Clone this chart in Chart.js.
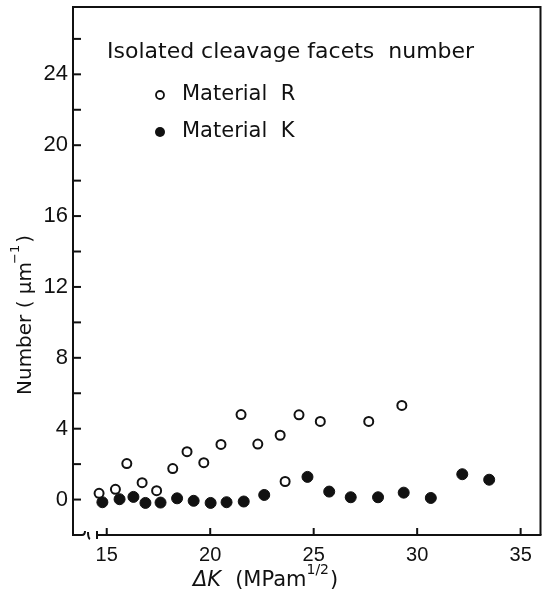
<!DOCTYPE html>
<html>
<head>
<meta charset="utf-8">
<script src="https://cdn.jsdelivr.net/npm/chart.js@4.4.0/dist/chart.umd.min.js"></script>
<style>
  html, body { margin: 0; padding: 0; background: #fff; }
  #wrap { width: 547px; height: 598px; }
</style>
</head>
<body>
<div id="wrap"><canvas id="chart" width="547" height="598"></canvas></div>
<script>
// Material R: isolated cleavage facets (open circles)
const rDeltaK = [14.63, 15.42, 15.97, 16.71, 17.41, 18.19, 18.88, 19.69, 20.52, 21.49, 22.30, 23.38, 23.62, 24.29, 25.32, 27.66, 29.26];
const rNumber = [0.35, 0.58, 2.03, 0.95, 0.50, 1.75, 2.70, 2.08, 3.11, 4.80, 3.13, 3.63, 1.02, 4.78, 4.41, 4.41, 5.31];

// Material K (filled circles)
const kDeltaK = [14.79, 15.62, 16.29, 16.87, 17.60, 18.40, 19.20, 20.02, 20.79, 21.62, 22.61, 24.70, 25.75, 26.79, 28.11, 29.35, 30.66, 32.18, 33.48];
const kNumber = [-0.15, 0.02, 0.15, -0.19, -0.17, 0.07, -0.07, -0.19, -0.15, -0.11, 0.26, 1.28, 0.45, 0.13, 0.13, 0.39, 0.09, 1.43, 1.12];

// axis ticks
const xTickValues = [15, 20, 25, 30, 35];
const yTickValues = [0, 4, 8, 12, 16, 20, 24];
const yMinorTicks = [0, 2, 4, 6, 8, 10, 12, 14, 16, 18, 20, 22, 24, 26];

const INK = '#111';
const TEXT_FONT = '"DejaVu Sans", sans-serif';

const toPoints = (xs, ys) => xs.map((x, i) => ({ x: x, y: ys[i] }));

// frame, inward ticks, broken x axis, legend block and axis titles
const decorations = {
    id: 'decorations',
    beforeDatasetsDraw(chart) {
        const { ctx, chartArea: a, scales } = chart;
        ctx.save();
        ctx.strokeStyle = INK;
        ctx.lineWidth = 2;
        ctx.lineCap = 'butt';

        // left, top, right sides
        ctx.beginPath();
        ctx.moveTo(a.left, a.bottom);
        ctx.lineTo(a.left, a.top);
        ctx.lineTo(a.right, a.top);
        ctx.lineTo(a.right, a.bottom);
        ctx.stroke();

        // bottom axis with a break near the origin
        ctx.beginPath();
        ctx.moveTo(a.left - 1, a.bottom);
        ctx.lineTo(a.left + 9, a.bottom);
        ctx.quadraticCurveTo(a.left + 12, a.bottom, a.left + 12, a.bottom - 4);
        ctx.stroke();
        ctx.beginPath();
        ctx.moveTo(a.left + 15, a.bottom - 3);
        ctx.quadraticCurveTo(a.left + 15, a.bottom + 3, a.left + 17, a.bottom + 4);
        ctx.stroke();
        ctx.beginPath();
        ctx.moveTo(a.left + 24, a.bottom - 4);
        ctx.lineTo(a.left + 24, a.bottom + 4);
        ctx.moveTo(a.left + 24, a.bottom);
        ctx.lineTo(a.right + 1, a.bottom);
        ctx.stroke();

        // y ticks pointing into the plot
        yMinorTicks.forEach(v => {
            const y = scales.y.getPixelForValue(v);
            ctx.beginPath();
            ctx.moveTo(a.left, y);
            ctx.lineTo(a.left + 8, y);
            ctx.stroke();
        });
        // x ticks pointing up
        xTickValues.forEach(v => {
            const x = scales.x.getPixelForValue(v);
            ctx.beginPath();
            ctx.moveTo(x, a.bottom);
            ctx.lineTo(x, a.bottom - 7);
            ctx.stroke();
        });
        ctx.restore();
    },
    afterDraw(chart) {
        const { ctx } = chart;
        ctx.save();
        ctx.fillStyle = INK;
        ctx.strokeStyle = INK;
        ctx.textBaseline = 'middle';
        ctx.textAlign = 'left';

        // legend block
        ctx.font = '22px ' + TEXT_FONT;
        ctx.fillText('Isolated cleavage facets  number', 107, 52);
        ctx.font = '21px ' + TEXT_FONT;
        ctx.fillText('Material  R', 182, 95);
        ctx.fillText('Material  K', 182, 132);
        ctx.lineWidth = 1.8;
        ctx.beginPath();
        ctx.arc(160, 95, 4, 0, Math.PI * 2);
        ctx.stroke();
        ctx.beginPath();
        ctx.arc(160, 132, 5, 0, Math.PI * 2);
        ctx.fill();

        // x title: ΔK (MPam^1/2)
        let x = 193;
        const yT = 581;
        ctx.font = 'italic 21px ' + TEXT_FONT;
        ctx.fillText('ΔK', x, yT);
        x += ctx.measureText('ΔK').width + 14;
        ctx.font = '21px ' + TEXT_FONT;
        ctx.fillText('(MPam', x, yT);
        x += ctx.measureText('(MPam').width;
        ctx.font = '14px ' + TEXT_FONT;
        ctx.fillText('1/2', x, yT - 11);
        x += ctx.measureText('1/2').width + 1;
        ctx.font = '21px ' + TEXT_FONT;
        ctx.fillText(')', x, yT);

        // y title: Number ( μm^-1 )
        ctx.translate(26, 395);
        ctx.rotate(-Math.PI / 2);
        let t = 0;
        ctx.font = '20px ' + TEXT_FONT;
        ctx.fillText('Number ( μm', t, 0);
        t += ctx.measureText('Number ( μm').width;
        ctx.font = '13px ' + TEXT_FONT;
        ctx.fillText('−1', t - 2, -10);
        t += ctx.measureText('−1').width;
        ctx.font = '20px ' + TEXT_FONT;
        ctx.fillText(')', t, 0);
        ctx.restore();
    }
};

let chart;
try {
    const canvas = document.getElementById('chart');
    chart = new Chart(canvas.getContext('2d'), {
        type: 'scatter',
        data: {
            datasets: [
                {
                    label: 'Material R',
                    data: toPoints(rDeltaK, rNumber),
                    pointStyle: 'circle',
                    pointRadius: 4.5,
                    pointBorderWidth: 2,
                    borderColor: INK,
                    backgroundColor: '#fff',
                    clip: false
                },
                {
                    label: 'Material K',
                    data: toPoints(kDeltaK, kNumber),
                    pointStyle: 'circle',
                    pointRadius: 5.5,
                    pointBorderWidth: 1,
                    borderColor: INK,
                    backgroundColor: INK,
                    clip: false
                }
            ]
        },
        options: {
            responsive: false,
            animation: false,
            layout: { padding: { top: 7, right: 2, left: 0, bottom: 0 } },
            plugins: {
                legend: { display: false },
                tooltip: { enabled: false }
            },
            scales: {
                x: {
                    type: 'linear',
                    min: 13.37,
                    max: 35.96,
                    grid: { display: false, drawTicks: false },
                    border: { display: false },
                    afterBuildTicks: s => { s.ticks = xTickValues.map(v => ({ value: v })); },
                    afterFit: s => { s.height = 63; s.paddingLeft = 0; s.paddingRight = 0; },
                    ticks: {
                        color: INK,
                        padding: 8,
                        maxRotation: 0,
                        font: { family: '"Liberation Sans", sans-serif', size: 20 }
                    }
                },
                y: {
                    type: 'linear',
                    min: -2,
                    max: 27.8,
                    grid: { display: false, drawTicks: false },
                    border: { display: false },
                    afterBuildTicks: s => { s.ticks = yTickValues.map(v => ({ value: v })); },
                    afterFit: s => { s.width = 73; s.paddingTop = 0; s.paddingBottom = 0; },
                    ticks: {
                        color: INK,
                        padding: 5,
                        font: { family: '"Liberation Sans", sans-serif', size: 22 }
                    }
                }
            }
        },
        plugins: [decorations]
    });
} catch (error) {
    console.error('Error initializing chart:', error);
}
</script>
</body>
</html>
